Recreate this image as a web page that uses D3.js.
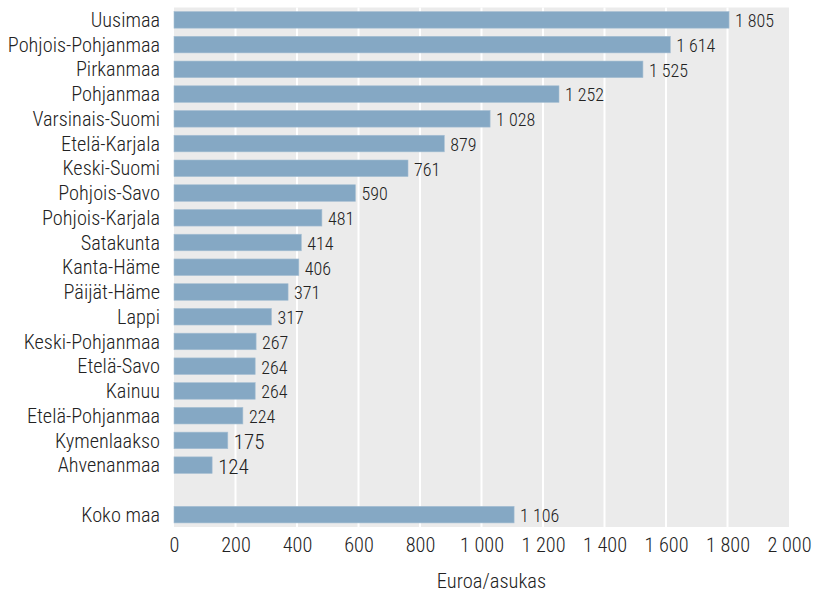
<!DOCTYPE html>
<html lang="fi">
<head>
<meta charset="utf-8">
<title>Euroa/asukas maakunnittain</title>
<script src="https://d3js.org/d3.v7.min.js"></script>
<style>
	body { margin: 0; background: #fff; }
	text { font-family: "Roboto Condensed", "Liberation Sans", sans-serif; font-weight: 300; fill: #222; }
</style>
</head>
<body>
<script>
	// Data
	var regions = ["Uusimaa", "Pohjois-Pohjanmaa", "Pirkanmaa", "Pohjanmaa", "Varsinais-Suomi",
		"Etelä-Karjala", "Keski-Suomi", "Pohjois-Savo", "Pohjois-Karjala", "Satakunta",
		"Kanta-Häme", "Päijät-Häme", "Lappi", "Keski-Pohjanmaa", "Etelä-Savo", "Kainuu",
		"Etelä-Pohjanmaa", "Kymenlaakso", "Ahvenanmaa", "", "Koko maa"];
	var values = [1805, 1614, 1525, 1252, 1028, 879, 761, 590, 481, 414, 406, 371, 317,
		267, 264, 264, 224, 175, 124, null, 1106];
	var xTicks = [0, 200, 400, 600, 800, 1000, 1200, 1400, 1600, 1800, 2000];
	var xTitle = "Euroa/asukas";

	var width = 819, height = 595;
	var margin = {top: 7.5, right: 30, bottom: 68, left: 174};

	var svg = d3.select("body").append("svg")
		.attr("width", width)
		.attr("height", height);

	var x = d3.scaleLinear()
		.domain([0, 2000])
		.range([margin.left, 789]);

	var y = d3.scaleBand()
		.domain(d3.range(regions.length))
		.range([margin.top, height - margin.bottom])
		.paddingInner(0.33)
		.paddingOuter(0.165);

	// thousands separated with a space
	var fmtNum = function(v) { return d3.format(",")(v).replace(/,/g, " "); };

	// grey plot background
	svg.append("rect")
		.attr("x", x(0))
		.attr("y", margin.top)
		.attr("width", x(2000) - x(0))
		.attr("height", height - margin.bottom - margin.top)
		.attr("fill", "#ebebeb");

	// white gridlines
	svg.append("g")
		.selectAll("line")
		.data(xTicks.slice(1, -1))
		.enter()
		.append("line")
		.attr("x1", function(d) { return x(d); })
		.attr("x2", function(d) { return x(d); })
		.attr("y1", margin.top)
		.attr("y2", height - margin.bottom)
		.attr("stroke", "#fff")
		.attr("stroke-width", 2);

	var rows = regions.map(function(r, i) { return {name: r, value: values[i], i: i}; });
	var filled = rows.filter(function(d) { return d.value !== null; });

	// bars
	svg.append("g")
		.selectAll("rect")
		.data(filled)
		.enter()
		.append("rect")
		.attr("x", x(0))
		.attr("y", function(d) { return y(d.i); })
		.attr("width", function(d) { return x(d.value) - x(0); })
		.attr("height", y.bandwidth())
		.attr("fill", "#85a8c4")
		.attr("stroke", "#a6bfd3")
		.attr("stroke-width", 0.6);

	// value labels
	svg.append("g")
		.selectAll("text")
		.data(filled)
		.enter()
		.append("text")
		.attr("x", function(d) { return x(d.value) + 6; })
		.attr("y", function(d) { return y(d.i) + y.bandwidth() / 2 + 1; })
		.attr("dy", "0.35em")
		.style("font-size", function(d) { return d.value < 200 ? "21px" : "18px"; })
		.text(function(d) { return fmtNum(d.value); });

	// category labels
	svg.append("g")
		.selectAll("text")
		.data(filled)
		.enter()
		.append("text")
		.attr("x", 160)
		.attr("y", function(d) { return y(d.i) + y.bandwidth() / 2; })
		.attr("dy", "0.35em")
		.attr("text-anchor", "end")
		.style("font-size", "20.3px")
		.text(function(d) { return d.name; });

	// x axis
	var xAxis = d3.axisBottom(x)
		.tickValues(xTicks)
		.tickSize(0)
		.tickPadding(11)
		.tickFormat(fmtNum);

	var gx = svg.append("g")
		.attr("transform", "translate(0," + (height - margin.bottom) + ")")
		.call(xAxis);
	gx.select(".domain").remove();
	gx.selectAll("text")
		.style("font-size", "20.3px")
		.style("font-family", "\"Roboto Condensed\", sans-serif")
		.style("font-weight", 300)
		.attr("fill", "#222");

	// axis title
	svg.append("text")
		.attr("x", 491.5)
		.attr("y", 588)
		.attr("text-anchor", "middle")
		.style("font-size", "20.5px")
		.text(xTitle);
</script>
</body>
</html>
